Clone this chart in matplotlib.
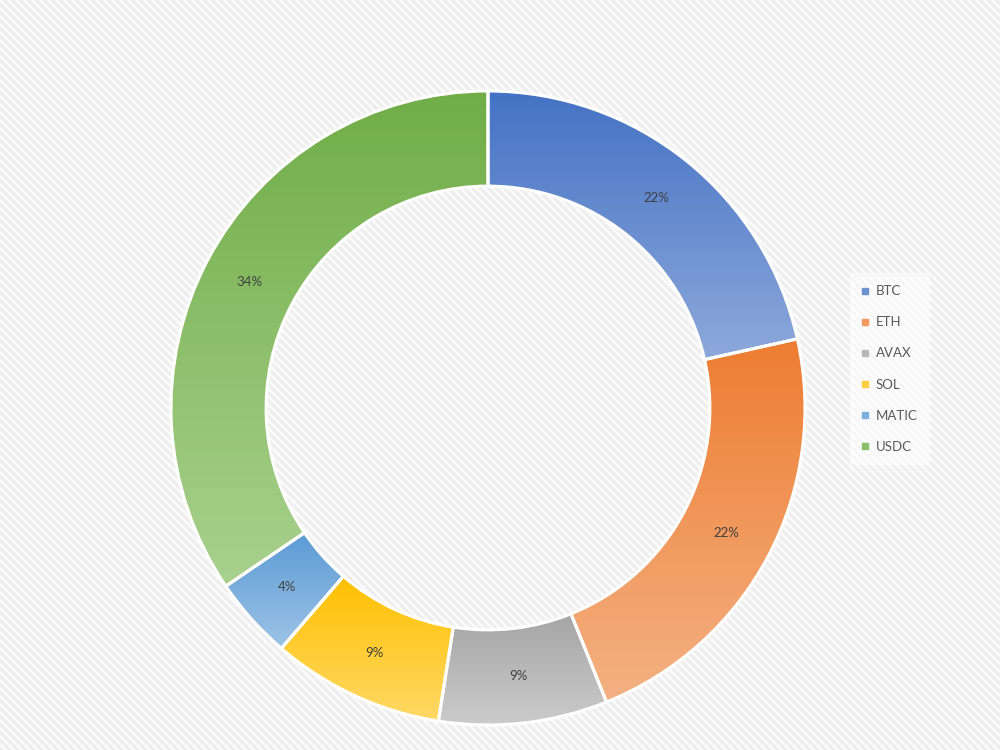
import numpy as np
import matplotlib
matplotlib.use("Agg")
import matplotlib.pyplot as plt
from matplotlib.colors import to_rgb
from matplotlib.lines import Line2D

plt.rcParams['font.family'] = ['Lato', 'DejaVu Sans']

# ---- data ----
labels = ["BTC", "ETH", "AVAX", "SOL", "MATIC", "USDC"]
values = [21.5, 22.4, 8.6, 8.8, 4.2, 34.5]
top_colors = ["#4472C4", "#ED7D31", "#A5A5A5", "#FFC000", "#5B9BD5", "#70AD47"]
bottom_colors = ["#8EA9DB", "#F4B183", "#CBCBCB", "#FFD966", "#9DC3E6", "#A9D18E"]
legend_colors = ["#6E92CF", "#F09A5E", "#B8B8B8", "#FFCD40", "#7DB0DF", "#8CC06A"]

W, H = 1000, 750
fig = plt.figure(figsize=(W / 100, H / 100), dpi=100)

# background stripes
bg = fig.add_axes([0, 0, 1, 1])
yy, xx = np.mgrid[0:H, 0:W]
phase = (xx - yy) % 8 / 8.0
inten = 0.955 + 0.030 * np.cos(2 * np.pi * phase)
bg.imshow(inten, cmap='gray', vmin=0, vmax=1, aspect='auto', interpolation='bilinear')
bg.set_axis_off()

# donut axes
cx, cy, R = 488, 408, 317
ax = fig.add_axes([(cx - R) / W, (H - cy - R) / H, 2 * R / W, 2 * R / H])
ax.set_axis_off()
wedges, _ = ax.pie(values, startangle=90, counterclock=False, radius=1.0,
                   wedgeprops=dict(width=0.30, edgecolor='white', linewidth=2.2,
                                   facecolor='none'),
                   frame=False)
ax.set_xlim(-1, 1)
ax.set_ylim(-1, 1)
ax.set_axis_off()

n = 256
for w, tc, bc in zip(wedges, top_colors, bottom_colors):
    w.set_facecolor('none')
    w.set_zorder(3)
    ext = w.get_path().get_extents()
    t = np.linspace(0, 1, n)[:, None]
    c1 = np.array(to_rgb(tc)); c2 = np.array(to_rgb(bc))
    grad = (c1[None, :] * (1 - t) + c2[None, :] * t)[:, None, :]
    im = ax.imshow(grad, extent=[ext.x0, ext.x1, ext.y0, ext.y1], origin='upper',
                   aspect='auto', interpolation='bilinear', zorder=2)
    im.set_clip_path(w)

ax.set_xlim(-1, 1)
ax.set_ylim(-1, 1)

# percentage labels
total = sum(values)
cum = 0
rmid = 0.85
for v in values:
    mid = 90 - (cum + v / 2) / total * 360
    cum += v
    a = np.deg2rad(mid)
    ax.text(rmid * np.cos(a), rmid * np.sin(a), f"{round(v / total * 100)}%",
            ha='center', va='center', fontsize=9.5, color='#404040', zorder=5)

# legend
handles = [Line2D([], [], marker='s', linestyle='none', markersize=5,
                  markerfacecolor=c, markeredgecolor=c) for c in legend_colors]
leg = fig.legend(handles, labels, loc='center left', bbox_to_anchor=(0.843, 0.508),
                 frameon=True, fontsize=9.5, labelspacing=1.45, handlelength=0.6,
                 handletextpad=0.5, borderpad=0.9, labelcolor='#595959')
leg.get_frame().set_facecolor('white')
leg.get_frame().set_alpha(0.55)
leg.get_frame().set_edgecolor('none')
leg.get_frame().set_boxstyle('square', pad=0)

fig.savefig("out.png", dpi=100)
